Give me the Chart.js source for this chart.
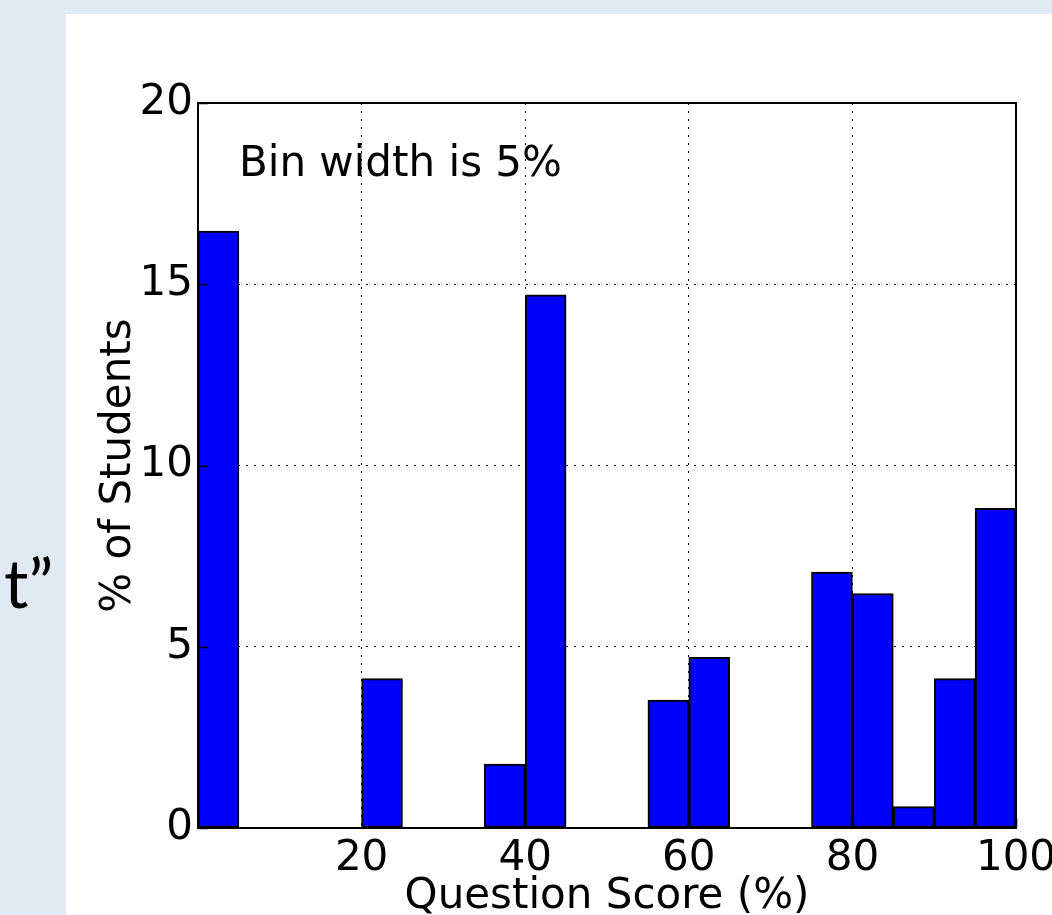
<!DOCTYPE html>
<html>
<head>
<meta charset="utf-8">
<title>Question Score Histogram</title>
<script src="https://cdn.jsdelivr.net/npm/chart.js@4.4.1/dist/chart.umd.min.js"></script>
<style>
  html, body { margin: 0; padding: 0; background: #e1e9f3; }
  canvas { display: block; }
</style>
</head>
<body>
<canvas id="hist" width="1052" height="915"></canvas>
<script>
// Histogram bins: left edge of each 5% bin and the share of students in it
const binLeftEdges = [0, 5, 10, 15, 20, 25, 30, 35, 40, 45, 50, 55, 60, 65, 70, 75, 80, 85, 90, 95];
const binWidth = 5;
const percentOfStudents = [16.47, 0, 0, 0, 4.12, 0, 0, 1.76, 14.71, 0, 0, 3.53, 4.71, 0, 0, 7.06, 6.47, 0.59, 4.12, 8.82];

// Axis ranges and labels
const xRange = [0, 100];
const xTickStep = 20;
const yRange = [0, 20];
const yTickStep = 5;
const xAxisTitle = 'Question Score (%)';
const yAxisTitle = '% of Students';
const noteText = 'Bin width is 5%';
const notePosition = { x: 5, y: 18 };
const sideText = 't\u201D';

const FONT = 'DejaVu Sans';
const FS = 42;

const barPoints = binLeftEdges.map((left, i) => ({ x: left + binWidth / 2, y: percentOfStudents[i] }));

// Slide backdrop, frame, inward ticks and the annotation
const decorations = {
  id: 'decorations',
  beforeDraw(chart) {
    const { ctx, width, height } = chart;
    ctx.save();
    ctx.fillStyle = '#e1e9f3';
    ctx.fillRect(0, 0, width, height);
    ctx.fillStyle = '#ffffff';
    ctx.fillRect(66, 14, width - 66, height - 14);
    ctx.fillStyle = '#000000';
    ctx.font = '68px Lato';
    ctx.textBaseline = 'alphabetic';
    ctx.textAlign = 'left';
    ctx.fillText(sideText, 4, 608);
    ctx.restore();
  },
  afterDatasetsDraw(chart) {
    const { ctx, chartArea: a, scales } = chart;
    ctx.save();
    ctx.strokeStyle = '#000000';
    ctx.lineWidth = 1.5;
    ctx.beginPath();
    scales.y.ticks.forEach(t => {
      const py = Math.round(scales.y.getPixelForValue(t.value)) + 0.5;
      ctx.moveTo(a.left, py); ctx.lineTo(a.left + 10, py);
    });
    scales.x.ticks.forEach(t => {
      const px = Math.round(scales.x.getPixelForValue(t.value)) + 0.5;
      ctx.moveTo(px, a.bottom); ctx.lineTo(px, a.bottom - 10);
    });
    ctx.stroke();
    ctx.lineWidth = 2;
    ctx.strokeRect(a.left, a.top, a.right - a.left, a.bottom - a.top);
    ctx.fillStyle = '#000000';
    ctx.font = FS + 'px "' + FONT + '"';
    ctx.textBaseline = 'alphabetic';
    ctx.textAlign = 'left';
    ctx.fillText(noteText, scales.x.getPixelForValue(notePosition.x), scales.y.getPixelForValue(notePosition.y));
    ctx.restore();
  }
};

new Chart(document.getElementById('hist'), {
  type: 'bar',
  data: {
    datasets: [{
      data: barPoints,
      backgroundColor: '#0000ff',
      borderColor: '#000000',
      borderWidth: 2,
      borderSkipped: false,
      barPercentage: 1,
      categoryPercentage: 1
    }]
  },
  options: {
    responsive: false,
    animation: false,
    devicePixelRatio: 1,
    layout: { padding: { left: 0, top: 103, right: 36, bottom: 0 } },
    plugins: { legend: { display: false }, tooltip: { enabled: false } },
    scales: {
      x: {
        type: 'linear',
        min: xRange[0],
        max: xRange[1],
        offset: false,
        grid: { offset: false, color: '#000000', lineWidth: 1, drawTicks: false },
        border: { display: false, dash: [2, 6] },
        ticks: {
          stepSize: xTickStep,
          padding: 6,
          maxRotation: 0,
          color: '#000000',
          font: { family: FONT, size: FS },
          callback: v => (v === xRange[0] ? '' : v)
        },
        title: {
          display: true,
          text: xAxisTitle,
          color: '#000000',
          font: { family: FONT, size: FS, lineHeight: 0.86 },
          padding: { top: 0, bottom: 0 }
        },
        afterFit(scale) { scale.height = 87; scale.paddingRight = 0; scale.paddingLeft = 0; }
      },
      y: {
        min: yRange[0],
        max: yRange[1],
        grid: { color: '#000000', lineWidth: 1, drawTicks: false },
        border: { display: false, dash: [2, 6] },
        ticks: {
          stepSize: yTickStep,
          padding: 5,
          color: '#000000',
          font: { family: FONT, size: FS }
        },
        title: {
          display: true,
          text: yAxisTitle,
          color: '#000000',
          font: { family: FONT, size: FS, lineHeight: 1 },
          padding: { top: 98, bottom: 0 }
        },
        afterFit(scale) { scale.width = 198; }
      }
    }
  },
  plugins: [decorations]
});
</script>
</body>
</html>
